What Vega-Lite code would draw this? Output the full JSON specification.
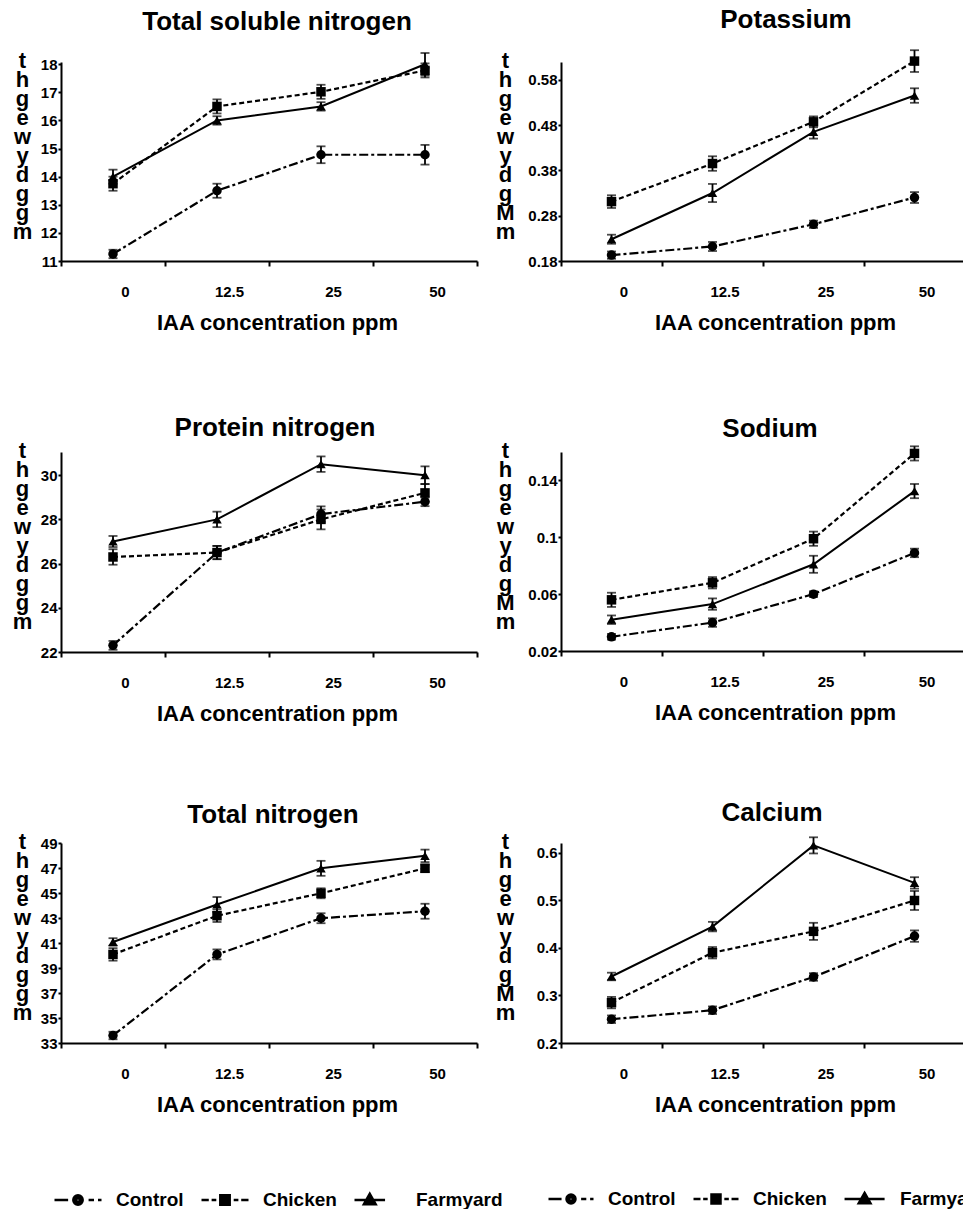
{
"$schema": "https://vega.github.io/schema/vega-lite/v6.json",
"background": "white",
"padding": {"left": 12, "top": 7, "right": 0, "bottom": 0},
"data": {"values": [
{"panel":"tsn","treatment":"Control","conc":"0","value":11.25,"err":0.15},
{"panel":"tsn","treatment":"Control","conc":"12.5","value":13.5,"err":0.25},
{"panel":"tsn","treatment":"Control","conc":"25","value":14.78,"err":0.3},
{"panel":"tsn","treatment":"Control","conc":"50","value":14.78,"err":0.35},
{"panel":"tsn","treatment":"Chicken","conc":"0","value":13.75,"err":0.25},
{"panel":"tsn","treatment":"Chicken","conc":"12.5","value":16.5,"err":0.25},
{"panel":"tsn","treatment":"Chicken","conc":"25","value":17.02,"err":0.25},
{"panel":"tsn","treatment":"Chicken","conc":"50","value":17.78,"err":0.25},
{"panel":"tsn","treatment":"Farmyard","conc":"0","value":14.0,"err":0.25},
{"panel":"tsn","treatment":"Farmyard","conc":"12.5","value":16.0,"err":0.15},
{"panel":"tsn","treatment":"Farmyard","conc":"25","value":16.5,"err":0.15},
{"panel":"tsn","treatment":"Farmyard","conc":"50","value":18.0,"err":0.4},
{"panel":"k","treatment":"Control","conc":"0","value":0.193,"err":0.008},
{"panel":"k","treatment":"Control","conc":"12.5","value":0.212,"err":0.01},
{"panel":"k","treatment":"Control","conc":"25","value":0.261,"err":0.008},
{"panel":"k","treatment":"Control","conc":"50","value":0.32,"err":0.012},
{"panel":"k","treatment":"Chicken","conc":"0","value":0.311,"err":0.014},
{"panel":"k","treatment":"Chicken","conc":"12.5","value":0.395,"err":0.016},
{"panel":"k","treatment":"Chicken","conc":"25","value":0.487,"err":0.012},
{"panel":"k","treatment":"Chicken","conc":"50","value":0.621,"err":0.024},
{"panel":"k","treatment":"Farmyard","conc":"0","value":0.228,"err":0.01},
{"panel":"k","treatment":"Farmyard","conc":"12.5","value":0.33,"err":0.02},
{"panel":"k","treatment":"Farmyard","conc":"25","value":0.465,"err":0.015},
{"panel":"k","treatment":"Farmyard","conc":"50","value":0.545,"err":0.016},
{"panel":"pn","treatment":"Control","conc":"0","value":22.3,"err":0.2},
{"panel":"pn","treatment":"Control","conc":"12.5","value":26.5,"err":0.3},
{"panel":"pn","treatment":"Control","conc":"25","value":28.24,"err":0.35},
{"panel":"pn","treatment":"Control","conc":"50","value":28.8,"err":0.2},
{"panel":"pn","treatment":"Chicken","conc":"0","value":26.3,"err":0.35},
{"panel":"pn","treatment":"Chicken","conc":"12.5","value":26.5,"err":0.3},
{"panel":"pn","treatment":"Chicken","conc":"25","value":28.0,"err":0.45},
{"panel":"pn","treatment":"Chicken","conc":"50","value":29.2,"err":0.4},
{"panel":"pn","treatment":"Farmyard","conc":"0","value":27.0,"err":0.25},
{"panel":"pn","treatment":"Farmyard","conc":"12.5","value":28.0,"err":0.35},
{"panel":"pn","treatment":"Farmyard","conc":"25","value":30.5,"err":0.35},
{"panel":"pn","treatment":"Farmyard","conc":"50","value":30.0,"err":0.4},
{"panel":"na","treatment":"Control","conc":"0","value":0.030,"err":0.002},
{"panel":"na","treatment":"Control","conc":"12.5","value":0.040,"err":0.003},
{"panel":"na","treatment":"Control","conc":"25","value":0.060,"err":0.002},
{"panel":"na","treatment":"Control","conc":"50","value":0.089,"err":0.003},
{"panel":"na","treatment":"Chicken","conc":"0","value":0.056,"err":0.005},
{"panel":"na","treatment":"Chicken","conc":"12.5","value":0.068,"err":0.004},
{"panel":"na","treatment":"Chicken","conc":"25","value":0.099,"err":0.005},
{"panel":"na","treatment":"Chicken","conc":"50","value":0.159,"err":0.005},
{"panel":"na","treatment":"Farmyard","conc":"0","value":0.042,"err":0.003},
{"panel":"na","treatment":"Farmyard","conc":"12.5","value":0.053,"err":0.004},
{"panel":"na","treatment":"Farmyard","conc":"25","value":0.081,"err":0.006},
{"panel":"na","treatment":"Farmyard","conc":"50","value":0.1325,"err":0.005},
{"panel":"tn","treatment":"Control","conc":"0","value":33.6,"err":0.3},
{"panel":"tn","treatment":"Control","conc":"12.5","value":40.1,"err":0.4},
{"panel":"tn","treatment":"Control","conc":"25","value":43.0,"err":0.4},
{"panel":"tn","treatment":"Control","conc":"50","value":43.56,"err":0.6},
{"panel":"tn","treatment":"Chicken","conc":"0","value":40.1,"err":0.5},
{"panel":"tn","treatment":"Chicken","conc":"12.5","value":43.2,"err":0.5},
{"panel":"tn","treatment":"Chicken","conc":"25","value":45.0,"err":0.4},
{"panel":"tn","treatment":"Chicken","conc":"50","value":47.0,"err":0.3},
{"panel":"tn","treatment":"Farmyard","conc":"0","value":41.1,"err":0.3},
{"panel":"tn","treatment":"Farmyard","conc":"12.5","value":44.1,"err":0.6},
{"panel":"tn","treatment":"Farmyard","conc":"25","value":47.0,"err":0.6},
{"panel":"tn","treatment":"Farmyard","conc":"50","value":48.0,"err":0.5},
{"panel":"ca","treatment":"Control","conc":"0","value":0.25,"err":0.008},
{"panel":"ca","treatment":"Control","conc":"12.5","value":0.269,"err":0.008},
{"panel":"ca","treatment":"Control","conc":"25","value":0.339,"err":0.008},
{"panel":"ca","treatment":"Control","conc":"50","value":0.425,"err":0.012},
{"panel":"ca","treatment":"Chicken","conc":"0","value":0.285,"err":0.012},
{"panel":"ca","treatment":"Chicken","conc":"12.5","value":0.39,"err":0.012},
{"panel":"ca","treatment":"Chicken","conc":"25","value":0.435,"err":0.018},
{"panel":"ca","treatment":"Chicken","conc":"50","value":0.5,"err":0.02},
{"panel":"ca","treatment":"Farmyard","conc":"0","value":0.34,"err":0.008},
{"panel":"ca","treatment":"Farmyard","conc":"12.5","value":0.445,"err":0.01},
{"panel":"ca","treatment":"Farmyard","conc":"25","value":0.616,"err":0.017},
{"panel":"ca","treatment":"Farmyard","conc":"50","value":0.537,"err":0.012}
]},
"columns": 2,
"spacing": {"row": 191, "column": 84},
"bounds": "flush",
"resolve": {"scale": {"shape": "independent"}, "legend": {"shape": "independent"}},
"concat": [
{
 "width": 416, "height": 199,
 "title": {"text": "Total soluble nitrogen", "dx": 8, "offset": 14},
 "transform": [{"filter": "datum.panel === 'tsn'"}],
 "encoding": {
  "x": {"field": "conc", "type": "ordinal", "sort": ["0","12.5","25","50"], "scale": {"type": "band", "paddingInner": 0, "paddingOuter": 0}, "title": "IAA concentration ppm", "axis": {"titleX": 216}},
  "y": {"field": "value", "type": "quantitative", "scale": {"domain": [11, 18.08], "nice": false, "zero": false}, "axis": {"values": [11,12,13,14,15,16,17,18], "title": ["t","h","g","e","w","y","d","g","g","m"], "titleX": -39}}
 },
 "layer": [
  {"transform": [{"filter": "datum.treatment === 'Control'"}], "mark": {"type": "line", "color": "black", "strokeWidth": 2.2, "strokeDash": [9,3,3,3]}},
  {"transform": [{"filter": "datum.treatment === 'Chicken'"}], "mark": {"type": "line", "color": "black", "strokeWidth": 2.2, "strokeDash": [5,3]}},
  {"transform": [{"filter": "datum.treatment === 'Farmyard'"}], "mark": {"type": "line", "color": "black", "strokeWidth": 2}},
  {"mark": {"type": "errorbar", "color": "black", "thickness": 1.8, "ticks": {"size": 9, "thickness": 1.8}}, "encoding": {"yError": {"field": "err"}, "detail": {"field": "treatment"}}},
  {"mark": {"type": "point", "filled": true, "color": "black", "opacity": 1, "size": 90}, "encoding": {"shape": {"field": "treatment", "type": "nominal", "scale": {"domain": ["Control","Chicken","Farmyard"], "range": ["circle","square","triangle-up"]}, "legend": null}}}
 ]
},
{
 "width": 404, "height": 199,
 "title": {"text": "Potassium", "dx": 23, "offset": 16},
 "transform": [{"filter": "datum.panel === 'k'"}],
 "encoding": {
  "x": {"field": "conc", "type": "ordinal", "sort": ["0","12.5","25","50"], "scale": {"type": "band", "paddingInner": 0, "paddingOuter": 0}, "title": "IAA concentration ppm", "axis": {"titleX": 214}},
  "y": {"field": "value", "type": "quantitative", "scale": {"domain": [0.18, 0.619], "nice": false, "zero": false}, "axis": {"values": [0.18,0.28,0.38,0.48,0.58], "title": ["t","h","g","e","w","y","d","g","M","m"], "titleX": -56}}
 },
 "layer": [
  {"transform": [{"filter": "datum.treatment === 'Control'"}], "mark": {"type": "line", "color": "black", "strokeWidth": 2.2, "strokeDash": [9,3,3,3]}},
  {"transform": [{"filter": "datum.treatment === 'Chicken'"}], "mark": {"type": "line", "color": "black", "strokeWidth": 2.2, "strokeDash": [5,3]}},
  {"transform": [{"filter": "datum.treatment === 'Farmyard'"}], "mark": {"type": "line", "color": "black", "strokeWidth": 2}},
  {"mark": {"type": "errorbar", "color": "black", "thickness": 1.8, "ticks": {"size": 9, "thickness": 1.8}}, "encoding": {"yError": {"field": "err"}, "detail": {"field": "treatment"}}},
  {"mark": {"type": "point", "filled": true, "color": "black", "opacity": 1, "size": 90}, "encoding": {"shape": {"field": "treatment", "type": "nominal", "scale": {"domain": ["Control","Chicken","Farmyard"], "range": ["circle","square","triangle-up"]}, "legend": null}}}
 ]
},
{
 "width": 416, "height": 200,
 "title": {"text": "Protein nitrogen", "dx": 6, "offset": -2},
 "transform": [{"filter": "datum.panel === 'pn'"}],
 "encoding": {
  "x": {"field": "conc", "type": "ordinal", "sort": ["0","12.5","25","50"], "scale": {"type": "band", "paddingInner": 0, "paddingOuter": 0}, "title": "IAA concentration ppm", "axis": {"titleX": 216}},
  "y": {"field": "value", "type": "quantitative", "scale": {"domain": [22, 31.05], "nice": false, "zero": false}, "axis": {"values": [22,24,26,28,30], "title": ["t","h","g","e","w","y","d","g","g","m"], "titleX": -39}}
 },
 "layer": [
  {"transform": [{"filter": "datum.treatment === 'Control'"}], "mark": {"type": "line", "color": "black", "strokeWidth": 2.2, "strokeDash": [9,3,3,3]}},
  {"transform": [{"filter": "datum.treatment === 'Chicken'"}], "mark": {"type": "line", "color": "black", "strokeWidth": 2.2, "strokeDash": [5,3]}},
  {"transform": [{"filter": "datum.treatment === 'Farmyard'"}], "mark": {"type": "line", "color": "black", "strokeWidth": 2}},
  {"mark": {"type": "errorbar", "color": "black", "thickness": 1.8, "ticks": {"size": 9, "thickness": 1.8}}, "encoding": {"yError": {"field": "err"}, "detail": {"field": "treatment"}}},
  {"mark": {"type": "point", "filled": true, "color": "black", "opacity": 1, "size": 90}, "encoding": {"shape": {"field": "treatment", "type": "nominal", "scale": {"domain": ["Control","Chicken","Farmyard"], "range": ["circle","square","triangle-up"]}, "legend": null}}}
 ]
},
{
 "width": 404, "height": 199,
 "title": {"text": "Sodium", "dx": 7, "offset": -3},
 "transform": [{"filter": "datum.panel === 'na'"}],
 "encoding": {
  "x": {"field": "conc", "type": "ordinal", "sort": ["0","12.5","25","50"], "scale": {"type": "band", "paddingInner": 0, "paddingOuter": 0}, "title": "IAA concentration ppm", "axis": {"titleX": 214}},
  "y": {"field": "value", "type": "quantitative", "scale": {"domain": [0.02, 0.16], "nice": false, "zero": false}, "axis": {"values": [0.02,0.06,0.1,0.14], "title": ["t","h","g","e","w","y","d","g","M","m"], "titleX": -56}}
 },
 "layer": [
  {"transform": [{"filter": "datum.treatment === 'Control'"}], "mark": {"type": "line", "color": "black", "strokeWidth": 2.2, "strokeDash": [9,3,3,3]}},
  {"transform": [{"filter": "datum.treatment === 'Chicken'"}], "mark": {"type": "line", "color": "black", "strokeWidth": 2.2, "strokeDash": [5,3]}},
  {"transform": [{"filter": "datum.treatment === 'Farmyard'"}], "mark": {"type": "line", "color": "black", "strokeWidth": 2}},
  {"mark": {"type": "errorbar", "color": "black", "thickness": 1.8, "ticks": {"size": 9, "thickness": 1.8}}, "encoding": {"yError": {"field": "err"}, "detail": {"field": "treatment"}}},
  {"mark": {"type": "point", "filled": true, "color": "black", "opacity": 1, "size": 90}, "encoding": {"shape": {"field": "treatment", "type": "nominal", "scale": {"domain": ["Control","Chicken","Farmyard"], "range": ["circle","square","triangle-up"]}, "legend": null}}}
 ]
},
{
 "width": 416, "height": 200,
 "title": {"text": "Total nitrogen", "dx": 4, "offset": 2},
 "transform": [{"filter": "datum.panel === 'tn'"}],
 "resolve": {"scale": {"shape": "independent"}, "legend": {"shape": "independent"}},
 "encoding": {
  "x": {"field": "conc", "type": "ordinal", "sort": ["0","12.5","25","50"], "scale": {"type": "band", "paddingInner": 0, "paddingOuter": 0}, "title": "IAA concentration ppm", "axis": {"titleX": 216}},
  "y": {"field": "value", "type": "quantitative", "scale": {"domain": [33, 49.03], "nice": false, "zero": false}, "axis": {"values": [33,35,37,39,41,43,45,47,49], "title": ["t","h","g","e","w","y","d","g","g","m"], "titleX": -39}}
 },
 "layer": [
  {"transform": [{"filter": "datum.treatment === 'Control'"}], "mark": {"type": "line", "color": "black", "strokeWidth": 2.2, "strokeDash": [9,3,3,3]}},
  {"transform": [{"filter": "datum.treatment === 'Chicken'"}], "mark": {"type": "line", "color": "black", "strokeWidth": 2.2, "strokeDash": [5,3]}},
  {"transform": [{"filter": "datum.treatment === 'Farmyard'"}], "mark": {"type": "line", "color": "black", "strokeWidth": 2}},
  {"mark": {"type": "errorbar", "color": "black", "thickness": 1.8, "ticks": {"size": 9, "thickness": 1.8}}, "encoding": {"yError": {"field": "err"}, "detail": {"field": "treatment"}}},
  {"mark": {"type": "point", "filled": true, "color": "black", "opacity": 1, "size": 90}, "encoding": {"shape": {"field": "treatment", "type": "nominal", "scale": {"domain": ["Control","Chicken","Farmyard"], "range": ["circle","square","triangle-up"]}, "legend": null}}},
  {"mark": {"type": "point", "filled": false, "color": "black", "strokeWidth": 2.5, "opacity": 0, "size": 90}, "encoding": {"shape": {"field": "treatment", "type": "nominal", "scale": {"domain": ["Control","Chicken","Farmyard"], "range": ["M-1,0L-0.42,0M0.45,0L0.68,0M0.85,0L1,0M-0.2,0A0.2,0.2,0,1,1,0.2,0A0.2,0.2,0,1,1,-0.2,0M-0.11,0A0.11,0.11,0,1,1,0.11,0A0.11,0.11,0,1,1,-0.11,0M-0.03,0A0.03,0.03,0,1,1,0.03,0A0.03,0.03,0,1,1,-0.03,0", "M-1,0L-0.69,0M-0.57,0L-0.37,0M0.37,0L0.57,0M0.69,0L1,0M-0.2,-0.2L0.2,-0.2L0.2,0.2L-0.2,0.2ZM-0.11,-0.11L0.11,-0.11L0.11,0.11L-0.11,0.11ZM-0.03,-0.03L0.03,-0.03L0.03,0.03L-0.03,0.03Z", "M-1,0L0.3,0M-0.35,-0.26L-0.1,0.18L-0.6,0.18ZM-0.35,-0.114L-0.225,0.107L-0.475,0.107ZM-0.35,-0.011L-0.31,0.055L-0.39,0.055Z"]},
   "legend": {"orient": "none", "legendX": -8, "legendY": 332, "direction": "horizontal", "title": null, "symbolSize": 2209, "symbolOpacity": 1, "symbolStrokeColor": "black", "symbolStrokeWidth": 2.5, "labelFontSize": 19, "labelFontWeight": "bold", "labelColor": "black", "labelFont": "Liberation Sans", "labelOffset": 13, "columnPadding": 12, "padding": 0}}}}
 ]
},
{
 "width": 404, "height": 200,
 "title": {"text": "Calcium", "dx": 9, "offset": 4},
 "transform": [{"filter": "datum.panel === 'ca'"}],
 "resolve": {"scale": {"shape": "independent"}, "legend": {"shape": "independent"}},
 "encoding": {
  "x": {"field": "conc", "type": "ordinal", "sort": ["0","12.5","25","50"], "scale": {"type": "band", "paddingInner": 0, "paddingOuter": 0}, "title": "IAA concentration ppm", "axis": {"titleX": 214}},
  "y": {"field": "value", "type": "quantitative", "scale": {"domain": [0.2, 0.621], "nice": false, "zero": false}, "axis": {"values": [0.2,0.3,0.4,0.5,0.6], "title": ["t","h","g","e","w","y","d","g","M","m"], "titleX": -56}}
 },
 "layer": [
  {"transform": [{"filter": "datum.treatment === 'Control'"}], "mark": {"type": "line", "color": "black", "strokeWidth": 2.2, "strokeDash": [9,3,3,3]}},
  {"transform": [{"filter": "datum.treatment === 'Chicken'"}], "mark": {"type": "line", "color": "black", "strokeWidth": 2.2, "strokeDash": [5,3]}},
  {"transform": [{"filter": "datum.treatment === 'Farmyard'"}], "mark": {"type": "line", "color": "black", "strokeWidth": 2}},
  {"mark": {"type": "errorbar", "color": "black", "thickness": 1.8, "ticks": {"size": 9, "thickness": 1.8}}, "encoding": {"yError": {"field": "err"}, "detail": {"field": "treatment"}}},
  {"mark": {"type": "point", "filled": true, "color": "black", "opacity": 1, "size": 90}, "encoding": {"shape": {"field": "treatment", "type": "nominal", "scale": {"domain": ["Control","Chicken","Farmyard"], "range": ["circle","square","triangle-up"]}, "legend": null}}},
  {"mark": {"type": "point", "filled": false, "color": "black", "strokeWidth": 2.5, "opacity": 0, "size": 90}, "encoding": {"shape": {"field": "treatment", "type": "nominal", "scale": {"domain": ["Control","Chicken","Farmyard"], "range": ["M-1,0L-0.42,0M0.45,0L0.68,0M0.85,0L1,0M-0.2,0A0.2,0.2,0,1,1,0.2,0A0.2,0.2,0,1,1,-0.2,0M-0.11,0A0.11,0.11,0,1,1,0.11,0A0.11,0.11,0,1,1,-0.11,0M-0.03,0A0.03,0.03,0,1,1,0.03,0A0.03,0.03,0,1,1,-0.03,0", "M-1,0L-0.69,0M-0.57,0L-0.37,0M0.37,0L0.57,0M0.69,0L1,0M-0.2,-0.2L0.2,-0.2L0.2,0.2L-0.2,0.2ZM-0.11,-0.11L0.11,-0.11L0.11,0.11L-0.11,0.11ZM-0.03,-0.03L0.03,-0.03L0.03,0.03L-0.03,0.03Z", "M-0.82,0L0.96,0M0.07,-0.27L0.33,0.19L-0.19,0.19ZM0.07,-0.12L0.2,0.11L-0.06,0.11ZM0.07,-0.01L0.11,0.055L0.03,0.055Z"]},
   "legend": {"orient": "none", "legendX": -14, "legendY": 332, "direction": "horizontal", "title": null, "symbolSize": 2025, "symbolOpacity": 1, "symbolStrokeColor": "black", "symbolStrokeWidth": 2.5, "labelFontSize": 19, "labelFontWeight": "bold", "labelColor": "black", "labelFont": "Liberation Sans", "labelOffset": 13, "columnPadding": 12, "padding": 0}}}}
 ]
}
],
"config": {
 "view": {"stroke": null},
 "font": "Liberation Sans",
 "title": {"fontSize": 26, "fontWeight": "bold", "color": "black", "font": "Liberation Sans", "anchor": "middle", "frame": "group"},
 "axis": {"domainColor": "black", "domainWidth": 2, "tickColor": "black", "tickWidth": 2, "labelColor": "black", "labelFontWeight": "bold", "labelFontSize": 15, "labelFont": "Liberation Sans", "titleColor": "black", "titleFontWeight": "bold", "titleFont": "Liberation Sans", "grid": false},
 "axisX": {"tickBand": "extent", "tickSize": 5, "labelPadding": 18, "labelOffset": 12, "labelAngle": 0, "titleFontSize": 22, "titlePadding": 13},
 "axisY": {"tickSize": 3, "labelPadding": 1, "labelExpr": "datum.value + ''", "titleAngle": 0, "titleAlign": "center", "titleBaseline": "top", "titleY": -12, "titleLineHeight": 19, "titleFontSize": 22}
}
}
